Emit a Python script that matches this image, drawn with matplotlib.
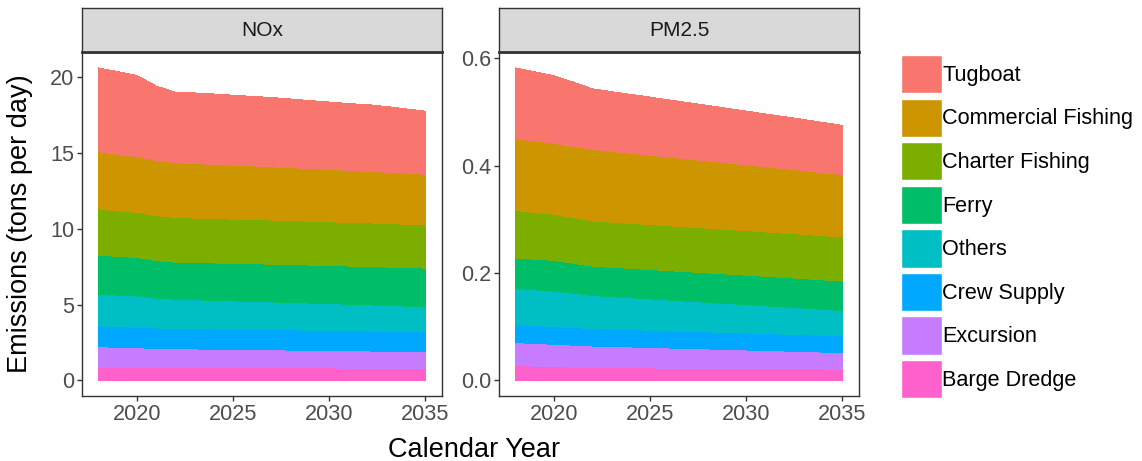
import matplotlib
matplotlib.use("Agg")
import matplotlib.pyplot as plt
from matplotlib.patches import Patch

plt.rcParams["font.family"] = ["Liberation Sans", "DejaVu Sans"]

years = list(range(2018, 2036))

# stacking order, bottom to top
categories = ["Barge Dredge", "Excursion", "Crew Supply", "Others",
              "Ferry", "Charter Fishing", "Commercial Fishing", "Tugboat"]
colors = ["#FF61CC", "#C77CFF", "#00A9FF", "#00BFC4",
          "#00BE67", "#7CAE00", "#CD9600", "#F8766D"]

nox = {
    "Barge Dredge": [0.88, 0.87, 0.87, 0.86, 0.86, 0.85, 0.85, 0.84, 0.84,
                     0.83, 0.83, 0.82, 0.82, 0.81, 0.81, 0.80, 0.80, 0.79],
    "Excursion": [1.34, 1.31, 1.28, 1.25, 1.23, 1.22, 1.21, 1.20, 1.19,
                  1.18, 1.17, 1.16, 1.15, 1.14, 1.13, 1.11, 1.10, 1.08],
    "Crew Supply": [1.37, 1.36, 1.35, 1.34, 1.33, 1.33, 1.33, 1.33, 1.33,
                    1.33, 1.33, 1.33, 1.32, 1.32, 1.32, 1.32, 1.32, 1.32],
    "Others": [2.09, 2.08, 2.07, 1.97, 1.93, 1.91, 1.89, 1.87, 1.85,
               1.83, 1.81, 1.79, 1.77, 1.75, 1.73, 1.70, 1.68, 1.65],
    "Ferry": [2.58, 2.55, 2.53, 2.48, 2.44, 2.45, 2.46, 2.47, 2.48,
              2.49, 2.50, 2.50, 2.51, 2.52, 2.53, 2.54, 2.55, 2.56],
    "Charter Fishing": [3.04, 3.00, 2.97, 2.96, 2.95, 2.94, 2.93, 2.92, 2.92,
                        2.91, 2.90, 2.89, 2.88, 2.88, 2.87, 2.86, 2.85, 2.84],
    "Commercial Fishing": [3.78, 3.73, 3.68, 3.64, 3.61, 3.59, 3.57, 3.55, 3.53,
                           3.51, 3.49, 3.47, 3.45, 3.43, 3.41, 3.39, 3.36, 3.34],
    "Tugboat": [5.52, 5.45, 5.35, 4.90, 4.65, 4.66, 4.64, 4.62, 4.58,
                4.57, 4.52, 4.49, 4.45, 4.40, 4.38, 4.33, 4.24, 4.17],
}

pm25 = {
    "Barge Dredge": [0.0274, 0.0265, 0.0256, 0.0246, 0.0237, 0.0235, 0.0233, 0.0231, 0.0229,
                     0.0227, 0.0225, 0.0223, 0.0221, 0.0219, 0.0217, 0.0215, 0.0212, 0.0210],
    "Excursion": [0.0429, 0.0423, 0.0416, 0.0410, 0.0403, 0.0396, 0.0389, 0.0382, 0.0374,
                  0.0367, 0.0360, 0.0352, 0.0345, 0.0337, 0.0330, 0.0322, 0.0315, 0.0307],
    "Crew Supply": [0.0337, 0.0334, 0.0330, 0.0327, 0.0324, 0.0323, 0.0322, 0.0321, 0.0320,
                    0.0319, 0.0318, 0.0317, 0.0316, 0.0315, 0.0314, 0.0313, 0.0311, 0.0310],
    "Others": [0.0670, 0.0665, 0.0660, 0.0638, 0.0616, 0.0605, 0.0594, 0.0583, 0.0572,
               0.0561, 0.0550, 0.0539, 0.0528, 0.0517, 0.0506, 0.0495, 0.0484, 0.0473],
    "Ferry": [0.0566, 0.0570, 0.0573, 0.0560, 0.0547, 0.0547, 0.0548, 0.0548, 0.0548,
              0.0548, 0.0549, 0.0549, 0.0549, 0.0549, 0.0549, 0.0550, 0.0550, 0.0550],
    "Charter Fishing": [0.0884, 0.0872, 0.0860, 0.0851, 0.0843, 0.0841, 0.0839, 0.0838, 0.0836,
                        0.0834, 0.0833, 0.0831, 0.0829, 0.0828, 0.0826, 0.0824, 0.0822, 0.0820],
    "Commercial Fishing": [0.134, 0.133, 0.132, 0.1325, 0.133, 0.1317, 0.1304, 0.1291, 0.1278,
                           0.1265, 0.1252, 0.1239, 0.1226, 0.1213, 0.1200, 0.1187, 0.1173, 0.1160],
    "Tugboat": [0.132, 0.129, 0.126, 0.120, 0.113, 0.1114, 0.1098, 0.1082, 0.1066,
                0.1050, 0.1034, 0.1018, 0.1002, 0.0985, 0.0969, 0.0953, 0.0937, 0.0920],
}

panels = [("NOx", nox, [0, 5, 10, 15, 20], ["0", "5", "10", "15", "20"]),
          ("PM2.5", pm25, [0.0, 0.2, 0.4, 0.6], ["0.0", "0.2", "0.4", "0.6"])]
xticks = [2020, 2025, 2030, 2035]

W, H = 1142, 461
fig = plt.figure(figsize=(W / 100, H / 100), dpi=100)

FS = 15.6
dark = "#333333"
lefts = [82.3, 499.3]
pw = 359.4
top, bottom = 52.3, 396
strip_top = 8.3

for (name, data, yt, ytl), lx in zip(panels, lefts):
    ax = fig.add_axes([lx / W, (H - bottom) / H, pw / W, (bottom - top) / H])
    ax.stackplot(years, [data[c] for c in categories], colors=colors,
                 linewidth=0, edgecolor="none", antialiased=False)
    tot = [sum(v) for v in zip(*[data[c] for c in categories])]
    ymax = max(tot)
    ax.set_ylim(-0.05 * ymax, 1.05 * ymax)
    span = years[-1] - years[0]
    ax.set_xlim(years[0] - 0.05 * span, years[-1] + 0.05 * span)
    ax.set_xticks(xticks)
    ax.set_yticks(yt)
    ax.set_yticklabels(ytl)
    ax.tick_params(labelsize=FS, colors=dark, labelcolor="#4D4D4D",
                   length=3.6, width=1.0, pad=2)
    for s in ax.spines.values():
        s.set_color(dark)
        s.set_linewidth(1.0)

    sx = fig.add_axes([lx / W, (H - top) / H, pw / W, (top - strip_top) / H])
    sx.set_facecolor("#D9D9D9")
    sx.set_xticks([])
    sx.set_yticks([])
    for s in sx.spines.values():
        s.set_color(dark)
        s.set_linewidth(1.0)
    sx.spines["bottom"].set_linewidth(2.0)
    sx.text(0.5, 0.5, name, ha="center", va="center", fontsize=15,
            color="#1A1A1A", transform=sx.transAxes)

fig.text(474 / W, 1 - 450 / H, "Calendar Year", ha="center", va="center",
         fontsize=19.5, color="black")
fig.text(20 / W, 1 - 224 / H, "Emissions (tons per day)", ha="center",
         va="center", rotation=90, fontsize=19.5, color="black")

handles = [Patch(facecolor=c, edgecolor="white", linewidth=1.0, label=l)
           for l, c in zip(categories[::-1], colors[::-1])]
fig.legend(handles=handles, loc="upper left",
           bbox_to_anchor=(900.5 / W, 1 - 55 / H), frameon=False,
           fontsize=FS, handlelength=1.9, handleheight=2.34,
           labelspacing=0.245, handletextpad=0.02, borderpad=0,
           borderaxespad=0)

fig.savefig("out.png", dpi=100)
